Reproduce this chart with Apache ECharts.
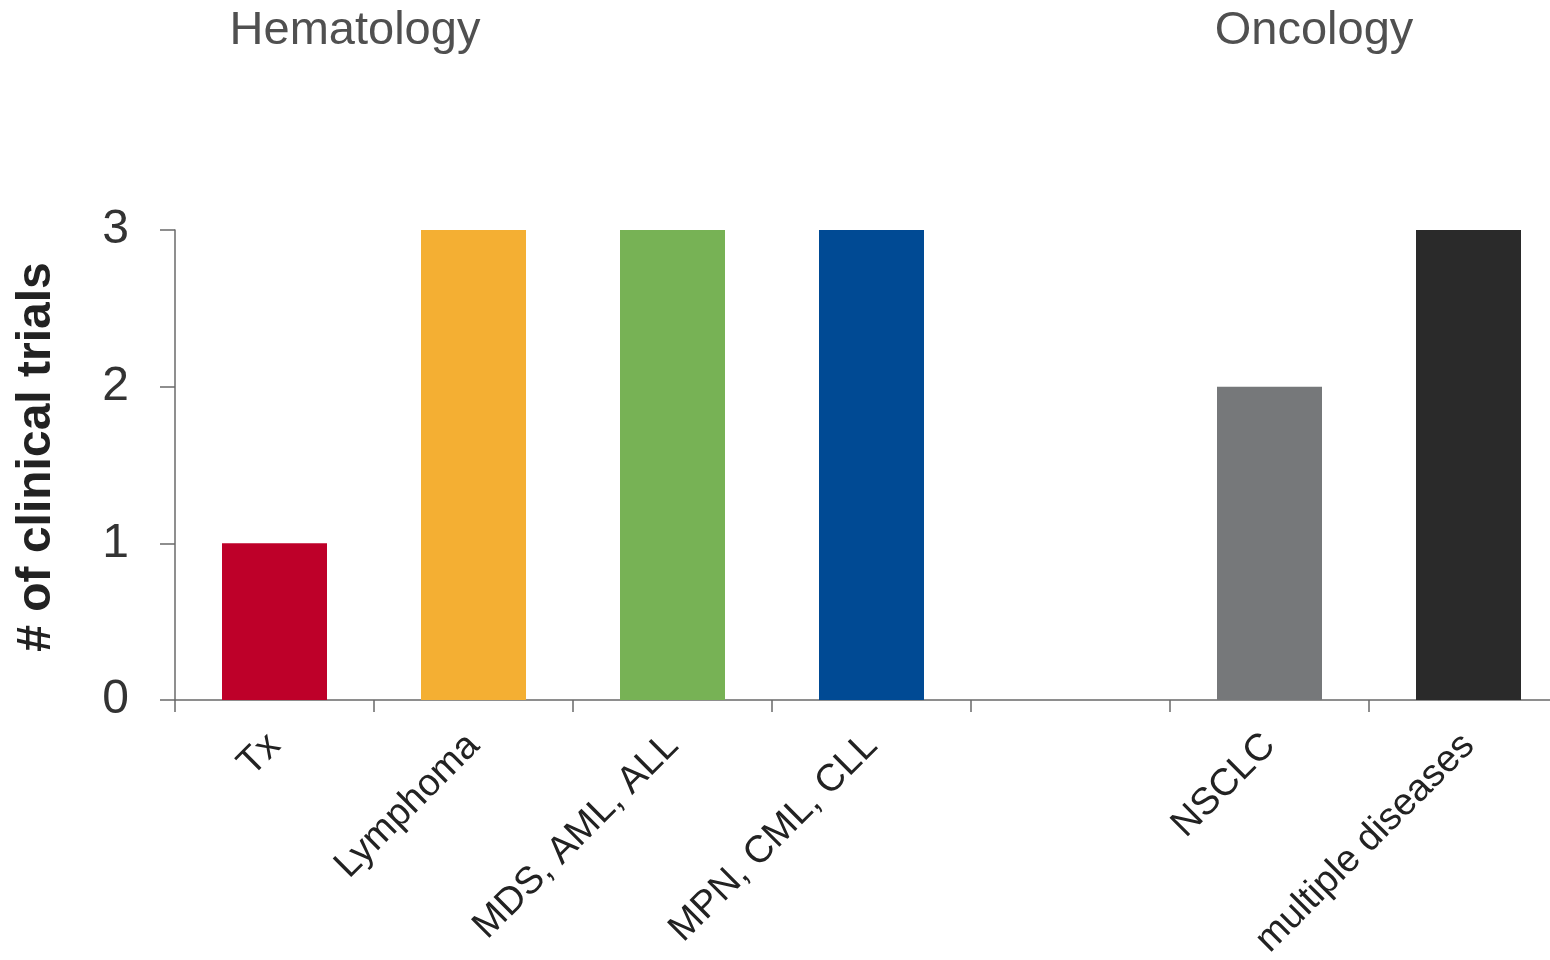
<!DOCTYPE html>
<html>
<head>
<meta charset="utf-8">
<script src="https://cdn.jsdelivr.net/npm/echarts@6/dist/echarts.min.js"></script>
<style>
html,body{margin:0;padding:0;background:#fff;}
#chart{width:1550px;height:960px;}
</style>
</head>
<body>
<div id="chart"></div>
<script>
const categories = ['Tx', 'Lymphoma', 'MDS, AML, ALL', 'MPN, CML, CLL', '', 'NSCLC', 'multiple diseases'];
const trialCounts = [1, 3, 3, 3, null, 2, 3];
const barColors = ['#BE0029', '#F4AF33', '#77B255', '#004A94', '#ffffff', '#76787A', '#2A2A2A'];
const groupTitles = ['Hematology', 'Oncology'];
const yTicks = [0, 1, 2, 3];

const FONT = '"Liberation Sans", Arial, Helvetica, sans-serif';
const chart = echarts.init(document.getElementById('chart'));

chart.setOption({
  backgroundColor: '#ffffff',
  animation: false,
  title: [
    { text: groupTitles[0], left: 350, top: 3, textAlign: 'center',
      textStyle: { fontFamily: FONT, fontSize: 47, fontWeight: 'normal', color: '#505050' } },
    { text: groupTitles[1], left: 1309, top: 3, textAlign: 'center',
      textStyle: { fontFamily: FONT, fontSize: 47, fontWeight: 'normal', color: '#505050' } }
  ],
  grid: { left: 175, right: -18, top: 230, bottom: 260, containLabel: false, outerBoundsMode: 'none' },
  xAxis: {
    type: 'category',
    data: categories,
    boundaryGap: true,
    axisLine: { show: true, lineStyle: { color: '#6a6a6a', width: 1.5 } },
    axisTick: { show: true, length: 12, lineStyle: { color: '#6a6a6a', width: 1.5 } },
    axisLabel: {
      rotate: 45, margin: 40, interval: 0,
      fontFamily: FONT, fontSize: 38, color: '#222222'
    }
  },
  yAxis: {
    type: 'value',
    min: yTicks[0], max: yTicks[yTicks.length - 1], interval: 1,
    name: '# of clinical trials',
    nameLocation: 'middle',
    nameGap: 114,
    nameTextStyle: { fontFamily: FONT, fontSize: 48, fontWeight: 'bold', color: '#222222', padding: [0, 0, 0, 16] },
    axisLine: { show: true, lineStyle: { color: '#6a6a6a', width: 1.5 } },
    axisTick: { show: true, length: 15, lineStyle: { color: '#6a6a6a', width: 1.5 } },
    splitLine: { show: false },
    axisLabel: { margin: 46, fontFamily: FONT, fontSize: 48, color: '#333333' }
  },
  series: [{
    type: 'bar',
    data: trialCounts.map((v, i) => ({ value: v === null ? '-' : v, itemStyle: { color: barColors[i] } })),
    barWidth: 105
  }]
});
</script>
</body>
</html>
